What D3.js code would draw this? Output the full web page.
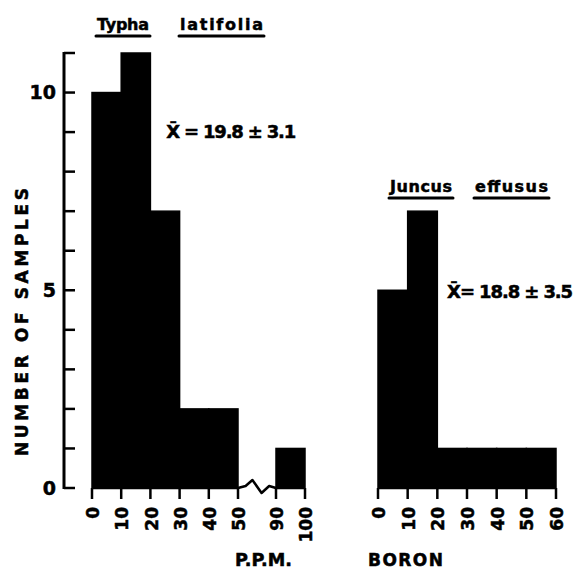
<!DOCTYPE html>
<html>
<head>
<meta charset="utf-8">
<script src="https://cdn.jsdelivr.net/npm/d3@7"></script>
<style>
  body { margin: 0; background: #fff; }
  text { font-family: "DejaVu Sans", sans-serif; font-weight: bold; fill: #000; stroke: #000; stroke-width: 0.5; }
</style>
</head>
<body>
<div id="chart"></div>
<script>
// histogram data (bin edges in p.p.m. boron)
var typhaLo = [0, 10, 20, 30, 40, 90];
var typhaHi = [10, 20, 30, 40, 50, 100];
var typhaCounts = [10, 11, 7, 2, 2, 1];

var juncusLo = [0, 10, 20, 30, 40, 50];
var juncusHi = [10, 20, 30, 40, 50, 60];
var juncusCounts = [5, 7, 1, 1, 1, 1];

var typhaTicks = [0, 10, 20, 30, 40, 50, 90, 100];
var juncusTicks = [0, 10, 20, 30, 40, 50, 60];
var yLabelTicks = [0, 5, 10];
var yMinorTicks = d3.range(0, 12);

var width = 574, height = 570;

var svg = d3.select("#chart")
    .append("svg")
    .attr("width", width)
    .attr("height", height);

// y scale shared by both panels
var y = d3.scaleLinear().domain([0, 11]).range([488, 53]);

// left panel x axis is broken between 50 and 90
var xL = d3.scaleLinear()
    .domain([0, 50, 90, 100])
    .range([92, 238, 276, 305]);

var xR = d3.scaleLinear()
    .domain([0, 60])
    .range([378, 556]);

// bars
function drawBars(lo, hi, counts, x) {
    svg.append("g")
        .selectAll("rect")
        .data(counts)
        .enter().append("rect")
        .attr("x", function(d, i) { return x(lo[i]); })
        .attr("width", function(d, i) { return x(hi[i]) - x(lo[i]); })
        .attr("y", function(d) { return y(d); })
        .attr("height", function(d) { return y(0) - y(d); })
        .attr("fill", "#000")
        .attr("stroke", "#000")
        .attr("stroke-width", 1.5);
}
drawBars(typhaLo, typhaHi, typhaCounts, xL);
drawBars(juncusLo, juncusHi, juncusCounts, xR);

// y axis (left only)
var yAxis = svg.append("g").attr("transform", "translate(64,0)");
yAxis.append("line")
    .attr("y1", y(0) + 1).attr("y2", y(11) - 1)
    .attr("stroke", "#000").attr("stroke-width", 3);
yAxis.selectAll(".tk")
    .data(yMinorTicks)
    .enter().append("line")
    .attr("x1", 0).attr("x2", 11)
    .attr("y1", function(d) { return y(d); })
    .attr("y2", function(d) { return y(d); })
    .attr("stroke", "#000").attr("stroke-width", 2.5);
yAxis.selectAll("text")
    .data(yLabelTicks)
    .enter().append("text")
    .attr("x", -8)
    .attr("y", function(d) { return y(d); })
    .attr("dy", "0.36em")
    .attr("text-anchor", "end")
    .attr("font-size", 19)
    .text(function(d) { return d; });

svg.append("text")
    .attr("transform", "translate(28,322) rotate(-90)")
    .attr("text-anchor", "middle")
    .attr("font-size", 17)
    .attr("textLength", 268)
    .attr("lengthAdjust", "spacing")
    .text("NUMBER  OF  SAMPLES");

// x axes: baseline, ticks, rotated labels
function drawX(ticks, x, broken) {
    var g = svg.append("g");
    var path;
    if (broken) {
        // zigzag break symbol between 50 and 90
        var a = x(50), b = x(90), w = b - a;
        path = "M" + x(0) + "," + y(0) + "H" + a +
            "L" + (a + w * 0.2) + "," + (y(0) - 2) +
            "L" + (a + w * 0.38) + "," + (y(0) - 8) +
            "L" + (a + w * 0.62) + "," + (y(0) + 5) +
            "L" + (a + w * 0.82) + "," + (y(0) - 2) +
            "L" + b + "," + y(0) + "H" + x(100);
    } else {
        path = "M" + x.range()[0] + "," + y(0) + "H" + x.range()[1];
    }
    g.append("path")
        .attr("d", path)
        .attr("fill", "none")
        .attr("stroke", "#000").attr("stroke-width", 2.5)
        .attr("stroke-linejoin", "round");
    g.selectAll(".tk")
        .data(ticks)
        .enter().append("line")
        .attr("x1", function(d) { return x(d); })
        .attr("x2", function(d) { return x(d); })
        .attr("y1", y(0)).attr("y2", y(0) + 11)
        .attr("stroke", "#000").attr("stroke-width", 2.5);
    g.selectAll("text")
        .data(ticks)
        .enter().append("text")
        .attr("transform", function(d) {
            return "translate(" + (x(d) + 1) + ",507) rotate(-90)";
        })
        .attr("dy", "0.36em")
        .attr("text-anchor", "end")
        .attr("font-size", 17)
        .text(function(d) { return d; });
}
drawX(typhaTicks, xL, true);
drawX(juncusTicks, xR, false);

svg.append("text")
    .attr("x", 235).attr("y", 566)
    .attr("font-size", 17)
    .attr("textLength", 57)
    .attr("lengthAdjust", "spacingAndGlyphs")
    .text("P.P.M.");
svg.append("text")
    .attr("x", 368).attr("y", 566)
    .attr("font-size", 17)
    .attr("textLength", 75)
    .text("BORON");

// underlined species titles
function title(txt, x0, x1, base) {
    svg.append("text")
        .attr("x", x0).attr("y", base)
        .attr("font-size", 16)
        .attr("textLength", x1 - x0)
        .attr("lengthAdjust", "spacing")
        .text(txt);
    svg.append("line")
        .attr("x1", x0 - 1).attr("x2", x1 + 1)
        .attr("y1", base + 6).attr("y2", base + 6)
        .attr("stroke", "#000").attr("stroke-width", 3)
        .attr("stroke-linecap", "round");
}
title("Typha", 97, 149, 30);
title("latifolia", 180, 263, 30);
title("Juncus", 390, 452, 192);
title("effusus", 475, 548, 192);

// mean +- se annotations
function meanLabel(txt, x0, x1, base) {
    svg.append("text")
        .attr("x", x0).attr("y", base)
        .attr("font-size", 18)
        .attr("textLength", x1 - x0)
        .attr("lengthAdjust", "spacing")
        .text(txt);
}
meanLabel("X\u0304 = 19.8 \u00b1 3.1", 165, 295, 138);
meanLabel("X\u0304= 18.8 \u00b1 3.5", 446, 572, 298);
</script>
</body>
</html>
